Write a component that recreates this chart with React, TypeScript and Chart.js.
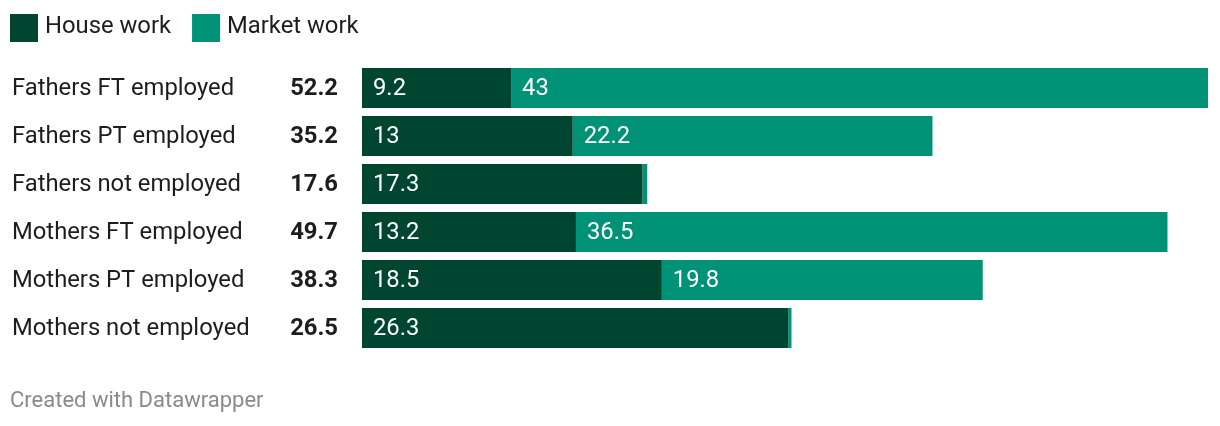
import React, { useEffect, useRef } from "react";
import { Chart, registerables } from "chart.js";

Chart.register(...registerables);

const categories = [
  "Fathers FT employed",
  "Fathers PT employed",
  "Fathers not employed",
  "Mothers FT employed",
  "Mothers PT employed",
  "Mothers not employed",
];
const totals = ["52.2", "35.2", "17.6", "49.7", "38.3", "26.5"];
const houseWork = [9.2, 13, 17.3, 13.2, 18.5, 26.3];
const marketWork = [43, 22.2, 0.3, 36.5, 19.8, 0.2];
const seriesNames = ["House work", "Market work"];
const colors = ["#004530", "#009276"];

const FONT = "Roboto, 'Noto Sans', sans-serif";
const FS = 23.8;

const overlay = {
  id: "overlay",
  afterDatasetsDraw(chart: any) {
    const ctx = chart.ctx as CanvasRenderingContext2D;
    const y = chart.scales.y;
    ctx.save();
    // legend
    ctx.textBaseline = "middle";
    ctx.textAlign = "left";
    ctx.font = `${FS}px ${FONT}`;
    let lx = 10;
    seriesNames.forEach((n, i) => {
      ctx.fillStyle = colors[i];
      ctx.fillRect(lx, 14, 28, 28);
      ctx.fillStyle = "#1d1d1d";
      ctx.fillText(n, lx + 35, 27);
      lx += 35 + ctx.measureText(n).width + 21;
    });
    // rows
    categories.forEach((c, i) => {
      const cy = y.getPixelForValue(i) + 1;
      ctx.font = `${FS}px ${FONT}`;
      ctx.fillStyle = "#1d1d1d";
      ctx.textAlign = "left";
      ctx.fillText(c, 12, cy);
      ctx.font = `bold ${FS}px ${FONT}`;
      ctx.textAlign = "right";
      ctx.fillText(totals[i], 338, cy);
    });
    // values in bars
    ctx.font = `${FS}px ${FONT}`;
    ctx.textAlign = "left";
    ctx.fillStyle = "#ffffff";
    chart.data.datasets.forEach((ds: any, di: number) => {
      const meta = chart.getDatasetMeta(di);
      meta.data.forEach((bar: any, i: number) => {
        const v = ds.data[i];
        const left = Math.min(bar.x, bar.base);
        const w = Math.abs(bar.x - bar.base);
        const txt = String(v);
        if (w > ctx.measureText(txt).width + 14) {
          ctx.fillText(txt, left + 11, bar.y + 1);
        }
      });
    });
    // footer
    ctx.font = `22px ${FONT}`;
    ctx.fillStyle = "#8a8a8a";
    ctx.textAlign = "left";
    ctx.fillText("Created with Datawrapper", 10, 401);
    ctx.restore();
  },
};

export default function App() {
  const ref = useRef<HTMLCanvasElement>(null);
  useEffect(() => {
    if (!ref.current) return;
    const chart = new Chart(ref.current, {
      type: "bar",
      data: {
        labels: categories,
        datasets: [
          { label: seriesNames[0], data: houseWork, backgroundColor: colors[0], borderWidth: 0 },
          { label: seriesNames[1], data: marketWork, backgroundColor: colors[1], borderWidth: 0 },
        ],
      },
      options: {
        indexAxis: "y",
        responsive: false,
        animation: false,
        layout: { padding: { left: 362, right: 12, top: 64, bottom: 74 } },
        datasets: { bar: { barPercentage: 40 / 48, categoryPercentage: 1 } },
        scales: {
          x: { stacked: true, display: false, min: 0, max: 52.2 },
          y: { stacked: true, display: false },
        },
        plugins: { legend: { display: false }, tooltip: { enabled: false } },
      },
      plugins: [overlay],
    });
    return () => chart.destroy();
  }, []);
  return (
    <div style={{ position: "fixed", left: 0, top: 0, width: 1220, height: 426, background: "#fff" }}>
      <canvas ref={ref} width={1220} height={426} />
    </div>
  );
}
